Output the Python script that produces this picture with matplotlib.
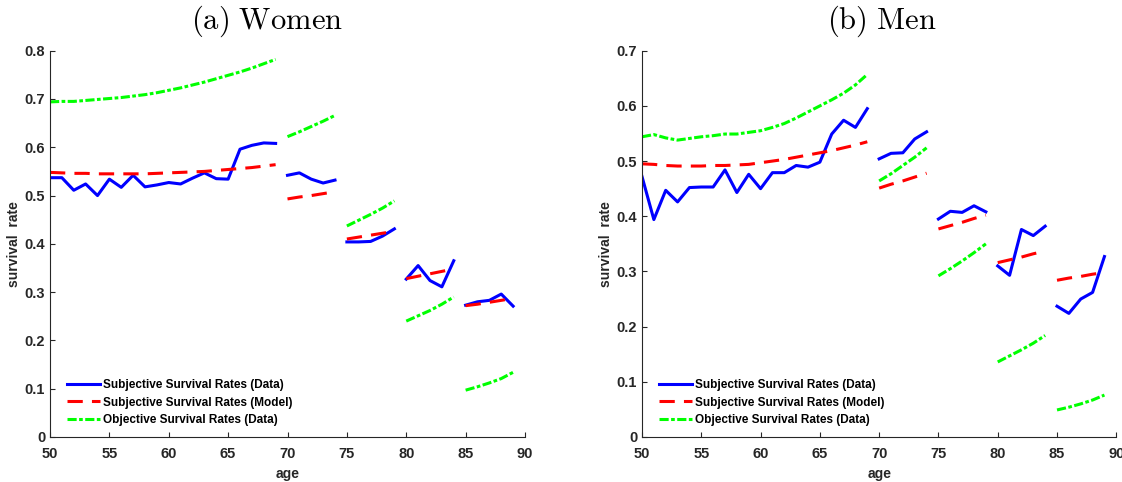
import matplotlib
matplotlib.use("Agg")
import matplotlib.pyplot as plt
import numpy as np

# segment boundaries (age groups are plotted as separate pieces)
seg_starts = [50, 70, 75, 80, 85]
seg_ends = [69, 74, 79, 84, 89]

# women, ages 50..89
women_subj_data = [0.537, 0.537, 0.511, 0.524, 0.500, 0.534, 0.517, 0.542, 0.518, 0.522,
                   0.527, 0.524, 0.536, 0.547, 0.535, 0.534, 0.596, 0.604, 0.609, 0.608,
                   0.542, 0.547, 0.534, 0.526, 0.532,
                   0.404, 0.404, 0.405, 0.416, 0.431,
                   0.327, 0.355, 0.324, 0.311, 0.365,
                   0.273, 0.280, 0.283, 0.296, 0.271]
women_subj_model = [0.548, 0.547, 0.546, 0.546, 0.545, 0.545, 0.545, 0.545, 0.545, 0.546,
                    0.547, 0.548, 0.549, 0.550, 0.552, 0.554, 0.556, 0.558, 0.561, 0.564,
                    0.493, 0.497, 0.500, 0.504, 0.508,
                    0.410, 0.414, 0.418, 0.422, 0.426,
                    0.328, 0.333, 0.338, 0.343, 0.348,
                    0.272, 0.275, 0.279, 0.283, 0.287]
women_obj_data = [0.694, 0.695, 0.695, 0.697, 0.699, 0.701, 0.703, 0.706, 0.709, 0.713,
                  0.718, 0.723, 0.729, 0.735, 0.742, 0.749, 0.756, 0.764, 0.773, 0.782,
                  0.622, 0.632, 0.643, 0.654, 0.666,
                  0.437, 0.449, 0.461, 0.474, 0.489,
                  0.240, 0.251, 0.262, 0.275, 0.290,
                  0.097, 0.104, 0.112, 0.121, 0.134]

# men, ages 50..89
men_subj_data = [0.472, 0.394, 0.447, 0.426, 0.452, 0.453, 0.453, 0.484, 0.443, 0.476,
                 0.450, 0.479, 0.479, 0.492, 0.489, 0.498, 0.549, 0.574, 0.561, 0.595,
                 0.504, 0.514, 0.515, 0.540, 0.553,
                 0.395, 0.409, 0.407, 0.419, 0.408,
                 0.310, 0.293, 0.376, 0.365, 0.382,
                 0.237, 0.224, 0.250, 0.262, 0.327]
men_subj_model = [0.495, 0.494, 0.492, 0.491, 0.491, 0.491, 0.492, 0.492, 0.493, 0.494,
                  0.497, 0.500, 0.503, 0.507, 0.511, 0.515, 0.519, 0.524, 0.529, 0.535,
                  0.451, 0.458, 0.464, 0.471, 0.478,
                  0.377, 0.383, 0.389, 0.396, 0.402,
                  0.316, 0.321, 0.326, 0.332, 0.337,
                  0.284, 0.288, 0.291, 0.295, 0.298]
men_obj_data = [0.544, 0.548, 0.542, 0.538, 0.541, 0.544, 0.546, 0.549, 0.549, 0.552,
                0.555, 0.561, 0.568, 0.578, 0.589, 0.600, 0.611, 0.623, 0.638, 0.657,
                0.464, 0.477, 0.492, 0.507, 0.524,
                0.292, 0.305, 0.319, 0.334, 0.350,
                0.136, 0.147, 0.158, 0.170, 0.184,
                0.049, 0.054, 0.060, 0.067, 0.076]

labels = ["Subjective Survival Rates (Data)",
          "Subjective Survival Rates (Model)",
          "Objective Survival Rates (Data)"]

plt.rcParams["mathtext.fontset"] = "cm"
plt.rcParams["font.family"] = ["Liberation Sans", "DejaVu Sans"]
grey = "#262626"


def draw(ax, series, ymax):
    ages = np.arange(50, 90)
    styles = [dict(color=(0, 0, 1), lw=2.2, ls="-"),
              dict(color=(1, 0, 0), lw=2.2, ls=(0, (5, 3))),
              dict(color=(0, 1, 0), lw=2.2, ls=(0, (3, 0.8, 1.2, 0.8)))]
    for vals, st, lab in zip(series, styles, labels):
        vals = np.array(vals)
        for i, (a, b) in enumerate(zip(seg_starts, seg_ends)):
            m = (ages >= a) & (ages <= b)
            ax.plot(ages[m], vals[m], label=lab if i == 0 else None, **st)
    ax.set_xlim(50, 90)
    ax.set_ylim(0, ymax)
    ax.set_xticks(range(50, 91, 5))
    ax.set_yticks(np.round(np.arange(0, ymax + 0.01, 0.1), 1))
    ax.set_yticklabels(["0"] + ["%.1f" % v for v in np.arange(0.1, ymax + 0.01, 0.1)])
    for s in ["top", "right"]:
        ax.spines[s].set_visible(False)
    for s in ["left", "bottom"]:
        ax.spines[s].set_color(grey)
        ax.spines[s].set_linewidth(0.8)
    ax.tick_params(direction="in", length=3.5, width=0.8, colors=grey, labelsize=10.5)
    ax.tick_params(axis="x", pad=7)
    ax.tick_params(axis="y", pad=3.5)
    for t in ax.get_xticklabels() + ax.get_yticklabels():
        t.set_fontweight("bold")
    ax.set_xlabel("age", fontsize=10, fontweight="bold", color=grey, labelpad=4.5)
    ax.set_ylabel("survival  rate", fontsize=10, fontweight="bold", color=grey)
    ax.yaxis.set_label_coords(-0.062, 0.5)
    ax.legend(loc="upper left", bbox_to_anchor=(0.036, 0.151), frameon=False,
              prop=dict(weight="bold", size=8.5), handlelength=2.8,
              handletextpad=0.25, labelspacing=0.5, borderpad=0, borderaxespad=0)


fig = plt.figure(figsize=(11.22, 4.82), dpi=100)
ax1 = fig.add_axes([50 / 1122, 45 / 482, 475 / 1122, 386.3 / 482])
ax2 = fig.add_axes([642 / 1122, 45 / 482, 474.3 / 1122, 386.3 / 482])

draw(ax1, [women_subj_data, women_subj_model, women_obj_data], 0.8)
draw(ax2, [men_subj_data, men_subj_model, men_obj_data], 0.7)

fig.text(267 / 1122, 1 - 21 / 482, r"$\mathrm{(a)\ Women}$", fontsize=22,
         ha="center", va="center")
fig.text(882 / 1122, 1 - 21 / 482, r"$\mathrm{(b)\ Men}$", fontsize=22,
         ha="center", va="center")

fig.savefig("out.png", dpi=100)
